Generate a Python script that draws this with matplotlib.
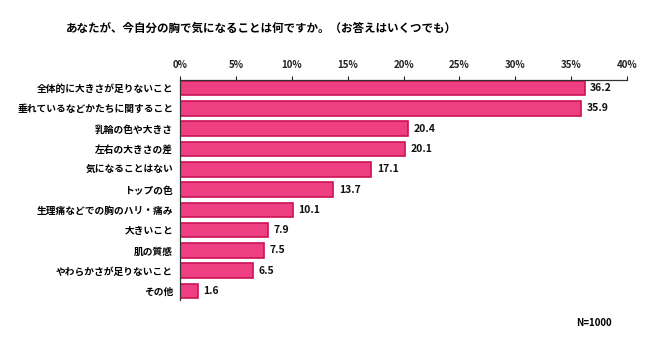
import matplotlib.pyplot as plt
import numpy as np

plt.rcParams['font.family'] = ['Noto Sans CJK JP', 'DejaVu Sans']

title = 'あなたが、今自分の胸で気になることは何ですか。（お答えはいくつでも）'
categories = [
    '全体的に大きさが足りないこと',
    '垂れているなどかたちに関すること',
    '乳輪の色や大きさ',
    '左右の大きさの差',
    '気になることはない',
    'トップの色',
    '生理痛などでの胸のハリ・痛み',
    '大きいこと',
    '肌の質感',
    'やわらかさが足りないこと',
    'その他',
]
values = [36.2, 35.9, 20.4, 20.1, 17.1, 13.7, 10.1, 7.9, 7.5, 6.5, 1.6]
ticks = [0, 5, 10, 15, 20, 25, 30, 35, 40]
note = 'N=1000'

fig = plt.figure(figsize=(6.5, 3.44), dpi=100)
ax = fig.add_axes([0.277, 0.128, 0.6876, 0.6396])

y = np.arange(len(categories))
ax.barh(y, values, height=0.72, color='#EE3F83', edgecolor='#CC1256', linewidth=1.2)

for yi, v in zip(y, values):
    ax.text(v + 0.5, yi, f'{v:.1f}', va='center', ha='left',
            fontsize=7.5, fontweight='bold', color='#111111')

ax.set_xlim(0, 40)
ax.set_ylim(10.44, -0.4)
ax.xaxis.tick_top()
ax.set_xticks(ticks)
ax.set_xticklabels([f'{t}%' for t in ticks], fontsize=7, fontweight='bold')
ax.tick_params(axis='x', direction='out', length=3, width=0.8, pad=4, colors='#222222')
ax.set_yticks(y)
ax.set_yticklabels(categories, fontsize=7, fontweight='bold')
ax.tick_params(axis='y', length=0, pad=5)

for side in ['right', 'bottom']:
    ax.spines[side].set_visible(False)
ax.spines['top'].set_color('#333333')
ax.spines['left'].set_color('#333333')
ax.spines['top'].set_linewidth(0.9)
ax.spines['left'].set_linewidth(0.9)

fig.text(0.403, 0.918, title, ha='center', va='center', fontsize=8.3, fontweight='bold')
fig.text(0.913, 0.06, note, ha='center', va='center', fontsize=7, fontweight='bold')

fig.savefig('out.png', dpi=100)
